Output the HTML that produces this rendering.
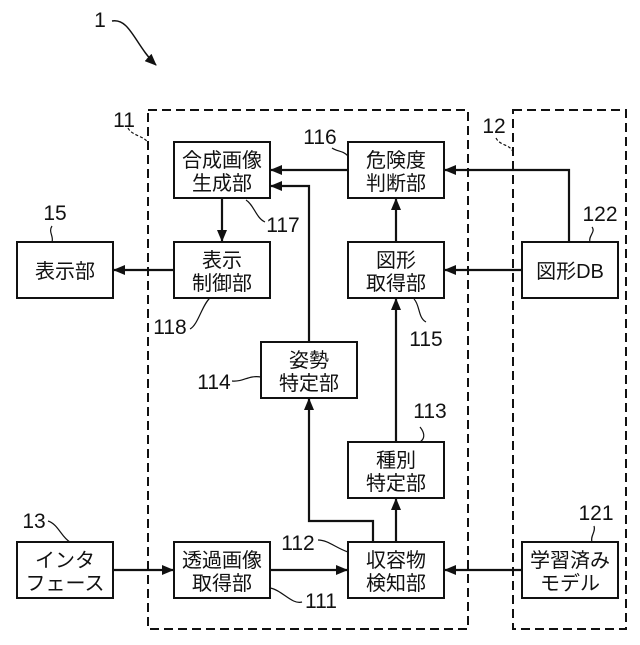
<!DOCTYPE html>
<html><head><meta charset="utf-8"><style>
html,body{margin:0;padding:0;background:#fff;}
svg text{font-family:"Liberation Sans","Noto Sans CJK JP",sans-serif;fill:#111;}
</style></head><body>
<svg width="640" height="640" viewBox="0 0 640 640" xmlns="http://www.w3.org/2000/svg">
<defs><marker id="a" markerWidth="12" markerHeight="10" refX="11" refY="5" orient="auto" markerUnits="userSpaceOnUse"><path d="M0,0 L12,5 L0,10 Z" fill="#111"/></marker></defs>
<g fill="none" stroke="#111" stroke-width="2" stroke-dasharray="9,5">
<rect x="148" y="110" width="320" height="519"/>
<rect x="513" y="110" width="113" height="519"/>
</g>
<g fill="#fff" stroke="#111" stroke-width="2">
<rect x="174" y="142" width="96" height="56"/>
<rect x="348" y="142" width="96" height="56"/>
<rect x="174" y="242" width="96" height="56"/>
<rect x="17" y="242" width="96" height="56"/>
<rect x="348" y="242" width="96" height="56"/>
<rect x="522" y="242" width="96" height="56"/>
<rect x="261" y="342" width="96" height="56"/>
<rect x="348" y="442" width="96" height="56"/>
<rect x="17" y="542" width="96" height="56"/>
<rect x="174" y="542" width="96" height="56"/>
<rect x="348" y="542" width="96" height="56"/>
<rect x="522" y="542" width="96" height="56"/>
</g>
<g fill="none" stroke="#111" stroke-width="2.2" marker-end="url(#a)">
<line x1="348" y1="170" x2="271" y2="170"/>
<polyline points="309,342 309,186 271,186"/>
<line x1="222" y1="198" x2="222" y2="241"/>
<line x1="174" y1="270" x2="114" y2="270"/>
<line x1="396" y1="242" x2="396" y2="199"/>
<polyline points="569,242 569,170 445,170"/>
<line x1="522" y1="270" x2="445" y2="270"/>
<line x1="396" y1="442" x2="396" y2="299"/>
<polyline points="373,542 373,521 309,521 309,399"/>
<line x1="396" y1="542" x2="396" y2="499"/>
<line x1="113" y1="570" x2="173" y2="570"/>
<line x1="270" y1="570" x2="347" y2="570"/>
<line x1="522" y1="570" x2="445" y2="570"/>
</g>
<path d="M112,21 C130,18 135,45 156,65" fill="none" stroke="#111" stroke-width="1.5" marker-end="url(#a)"/>
<g fill="none" stroke="#111" stroke-width="1.2">
<path d="M128,128 C132,136 145,136 148,143" stroke-dasharray="3,2"/>
<path d="M496,138 C500,146 510,144 513,152" stroke-dasharray="3,2"/>
<path d="M332,148 C338,152 342,150 348,156"/>
<path d="M246,200 C254,205 256,218 265,222"/>
<path d="M52,226 C48,232 54,236 52,242"/>
<path d="M190,329 C198,325 202,305 210,298"/>
<path d="M414,299 C420,305 418,318 426,322"/>
<path d="M232,381 C244,382 248,375 261,377"/>
<path d="M420,427 C424,432 426,438 420,442"/>
<path d="M592,227 C596,232 588,236 590,242"/>
<path d="M594,526 C596,532 590,536 592,542"/>
<path d="M48,521 C58,524 62,538 70,542"/>
<path d="M318,540 C328,540 336,548 348,552"/>
<path d="M270,588 C282,590 292,605 302,602"/>
</g>
<g font-size="21" text-anchor="middle">
<text x="100" y="27">1</text>
<text x="124" y="127">11</text>
<text x="494" y="133">12</text>
<text x="320" y="144">116</text>
<text x="283" y="232">117</text>
<text x="55" y="220">15</text>
<text x="170" y="334">118</text>
<text x="426" y="346">115</text>
<text x="214" y="389">114</text>
<text x="430" y="418">113</text>
<text x="600" y="221">122</text>
<text x="596" y="520">121</text>
<text x="34" y="528">13</text>
<text x="298" y="550">112</text>
<text x="321" y="608">111</text>
</g>
<g font-size="20" text-anchor="middle">
<text x="222" y="167">合成画像</text><text x="222" y="190">生成部</text>
<text x="396" y="167">危険度</text><text x="396" y="190">判断部</text>
<text x="222" y="267">表示</text><text x="222" y="290">制御部</text>
<text x="65" y="278">表示部</text>
<text x="396" y="267">図形</text><text x="396" y="290">取得部</text>
<text x="570" y="278">図形DB</text>
<text x="309" y="367">姿勢</text><text x="309" y="390">特定部</text>
<text x="396" y="467">種別</text><text x="396" y="490">特定部</text>
<text x="65" y="567">インタ</text><text x="65" y="590">フェース</text>
<text x="222" y="567">透過画像</text><text x="222" y="590">取得部</text>
<text x="396" y="567">収容物</text><text x="396" y="590">検知部</text>
<text x="570" y="567">学習済み</text><text x="570" y="590">モデル</text>
</g>
</svg>
</body></html>
